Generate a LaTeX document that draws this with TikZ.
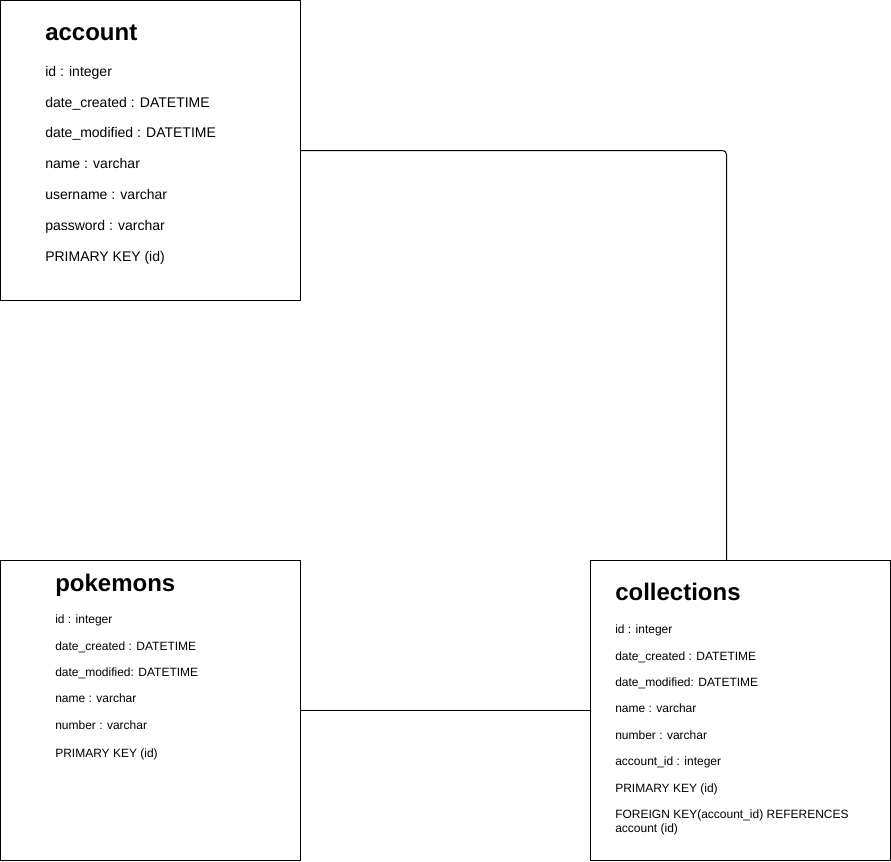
\documentclass[tikz,border=0pt]{standalone}
\usepackage{fontspec}
\setmainfont{Liberation Sans}
\usepackage{tikz}
\usetikzlibrary{positioning, calc}

\begin{document}
\begin{tikzpicture}[
    x=0.75pt, y=-0.75pt,
    entity/.style={rectangle, draw=black, line width=0.75pt, minimum width=225pt, minimum height=225pt, inner sep=0pt},
    title/.style={anchor=base west, inner sep=0pt, font=\bfseries\fontsize{18}{20}\selectfont},
    field/.style={anchor=base west, inner sep=0pt, font=\fontsize{10.5}{12}\selectfont},
    smallfield/.style={anchor=base west, inner sep=0pt, font=\fontsize{9}{10.5}\selectfont},
    link/.style={draw=black, line width=0.75pt, rounded corners=3pt}
]
    \useasboundingbox (0,0) rectangle (891,861);

    % account table
    \node[entity] (account) at (150.5,150.5) {};
    \node[title] (accountTitle) at (45,40) {account};
    \node[field] (accountId) at (45,76) {id : integer};
    \node[field] (accountCreated) at (45,107) {date\_created : DATETIME};
    \node[field] (accountModified) at (45,137) {date\_modified : DATETIME};
    \node[field] (accountName) at (45,168) {name : varchar};
    \node[field] (accountUser) at (45,199) {username : varchar};
    \node[field] (accountPass) at (45,230) {password : varchar};
    \node[field] (accountKey) at (45,261) {PRIMARY KEY (id)};

    % pokemons table
    \node[entity] (pokemons) at (150.5,710.5) {};
    \node[title] (pokemonsTitle) at (55,591) {pokemons};
    \node[smallfield] (pokemonsId) at (55,623) {id : integer};
    \node[smallfield] (pokemonsCreated) at (55,650) {date\_created : DATETIME};
    \node[smallfield] (pokemonsModified) at (55,676) {date\_modified: DATETIME};
    \node[smallfield] (pokemonsName) at (55,702) {name : varchar};
    \node[smallfield] (pokemonsNumber) at (55,729) {number : varchar};
    \node[smallfield] (pokemonsKey) at (55,757) {PRIMARY KEY (id)};

    % collections table
    \node[entity] (collections) at (740.5,710.5) {};
    \node[title] (collectionsTitle) at (615,600) {collections};
    \node[smallfield] (collectionsId) at (615,633) {id : integer};
    \node[smallfield] (collectionsCreated) at (615,660) {date\_created : DATETIME};
    \node[smallfield] (collectionsModified) at (615,686) {date\_modified: DATETIME};
    \node[smallfield] (collectionsName) at (615,712) {name : varchar};
    \node[smallfield] (collectionsNumber) at (615,739) {number : varchar};
    \node[smallfield] (collectionsAccount) at (615,765) {account\_id : integer};
    \node[smallfield] (collectionsKey) at (615,792) {PRIMARY KEY (id)};
    \node[smallfield] (collectionsFKey) at (615,818) {FOREIGN KEY(account\_id) REFERENCES};
    \node[smallfield] (collectionsFRef) at (615,832) {account (id)};

    % relations
    \draw[link] (account.east) -| ([xshift=-10.5pt]collections.north);
    \draw[link] (pokemons.east) -- (collections.west);
\end{tikzpicture}
\end{document}
